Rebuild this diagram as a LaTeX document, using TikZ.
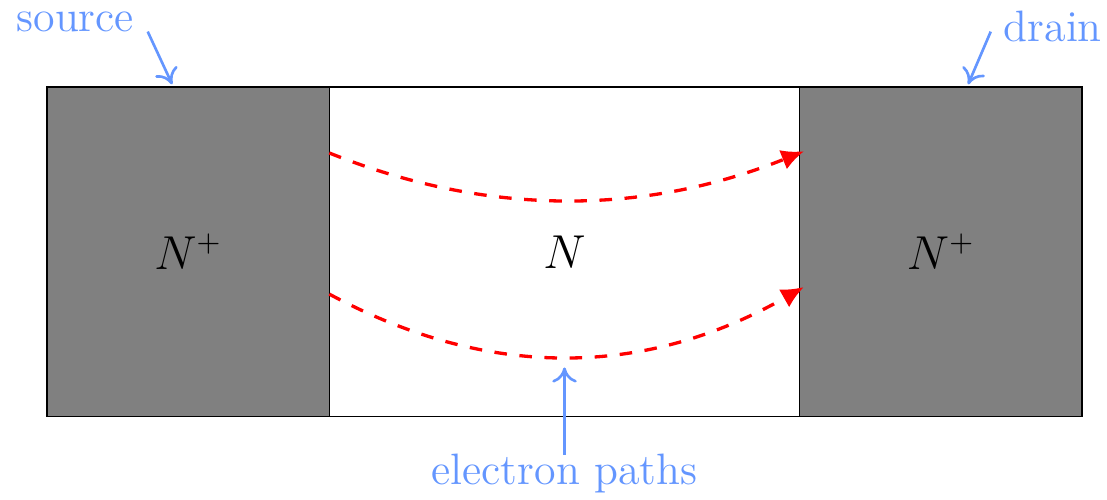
\documentclass[tikz,border=0pt]{standalone}
\usepackage{tikz}
\usetikzlibrary{arrows.meta, positioning}

\definecolor{lblblue}{RGB}{100,150,255}

\tikzset{
    region/.style={draw, minimum width=3cm, minimum height=3.5cm, inner sep=0pt, outer sep=0pt},
    path arrow/.style={red, line width=1pt, dash pattern=on 3.8pt off 3.8pt, -{Latex[length=2.4mm,width=2.2mm]}, shorten >=-0.5mm},
    lbl/.style={lblblue, font=\fontsize{13.3}{16}\selectfont},
    lbl arrow/.style={lblblue, thick, -{To[length=1.6mm,width=2.6mm]}}
}

\begin{document}
\begin{tikzpicture}[font=\fontsize{13.3}{16}\selectfont]
        \useasboundingbox (-0.5,-0.883) rectangle (11.266,4.426);

        % the three regions
        \node[region, fill=gray] (src) at (1.5,1.75) {$N^+$};
        \node[region, minimum width=5cm, right=0pt of src] (ch) {$N$};
        \node[region, fill=gray, right=0pt of ch] (drn) {$N^+$};

        % electron paths
        \draw[path arrow] ([yshift=1.05cm]src.east) .. controls +(1.67,-0.67) and +(-1.67,-0.67) .. ([yshift=1.05cm]drn.west);
        \draw[path arrow] ([yshift=-0.45cm]src.east) .. controls +(1.67,-0.9) and +(-1.67,-0.95) .. ([yshift=-0.4cm]drn.west);

        % labels
        \node[lbl] (srclbl) at (0.3,4.19) {source};
        \node[lbl] (drnlbl) at (10.69,4.14) {drain};
        \node[lbl] (pathlbl) at (5.5,-0.61) {electron paths};

        \coordinate (s1) at (1.07,4.09);
        \coordinate (s2) at (1.33,3.53);
        \coordinate (d1) at (10.03,4.09);
        \coordinate (d2) at (9.79,3.53);
        \coordinate (p1) at (5.5,-0.41);
        \coordinate (p2) at (5.5,0.52);

        \draw[lbl arrow] (s1) -- (s2);
        \draw[lbl arrow] (d1) -- (d2);
        \draw[lbl arrow] (p1) -- (p2);
    \end{tikzpicture}
\end{document}
